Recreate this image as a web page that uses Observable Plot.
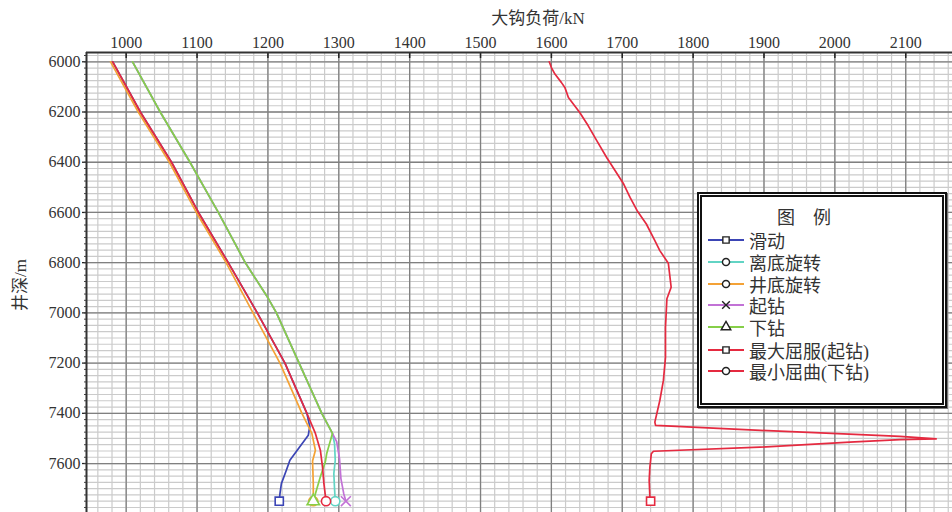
<!DOCTYPE html>
<html>
<head>
<meta charset="utf-8">
<script src="https://cdn.jsdelivr.net/npm/d3@7"></script>
<script src="https://cdn.jsdelivr.net/npm/@observablehq/plot@0.6"></script>
<style>
  html, body { margin: 0; padding: 0; background: #fff; }
  #wrap { position: relative; width: 952px; height: 512px; overflow: hidden;
          font-family: "Liberation Serif", "Noto Sans CJK SC", serif; color: #333; }
  #title { position: absolute; left: 538px; top: 4px; transform: translateX(-50%);
           font-size: 17px; white-space: nowrap; }
  #ylab { position: absolute; left: 18px; top: 285px; transform: translate(-50%, -50%) rotate(-90deg);
          font-size: 17px; white-space: nowrap; }
  #legend { position: absolute; left: 697px; top: 192px; width: 250px; height: 216px;
            box-sizing: border-box; border: 5px double #111; background: #fff;
            box-shadow: 1px 1px 0 #777; }
  #legend .lt { position: absolute; left: 75px; top: 6px; font-size: 18px; letter-spacing: 18px; }
  #legend .row { position: absolute; left: 6px; height: 22px; display: flex; align-items: center; font-size: 18px; white-space: nowrap; }
  #legend svg { margin-right: 5px; }
</style>
</head>
<body>
<div id="wrap">
  <div id="chart"></div>
  <div id="title">大钩负荷/kN</div>
  <div id="ylab">井深/m</div>
  <div id="legend"></div>
</div>
<script>
// ---- tick labels ----
const xTicks = [1000, 1100, 1200, 1300, 1400, 1500, 1600, 1700, 1800, 1900, 2000, 2100];
const yTicks = [6000, 6200, 6400, 6600, 6800, 7000, 7200, 7400, 7600];

// ---- series names / legend order ----
const legendNames = ["滑动", "离底旋转", "井底旋转", "起钻", "下钻", "最大屈服(起钻)", "最小屈曲(下钻)"];
const legendColors = ["#3b45b5", "#62d4c4", "#f4a236", "#c272d6", "#86cf48", "#e52a40", "#e52a40"];
const legendSymbols = ["square", "circle", "circle", "times", "triangle", "square", "circle"];

// ---- data (depth in m, hook load in kN) ----
const slideDepth = [6000, 6200, 6400, 6600, 6800, 7000, 7200, 7400, 7453, 7487, 7533, 7587, 7627, 7680, 7720, 7750];
const slideLoad  = [981, 1020, 1064, 1102, 1144, 1185, 1224, 1255, 1259, 1257, 1245, 1231, 1226, 1219, 1217, 1216];

const offBottomDepth = [6000, 6200, 6400, 6600, 6800, 6940, 7000, 7200, 7400, 7453, 7480, 7520, 7587, 7640, 7700, 7750];
const offBottomLoad  = [1009, 1048, 1090, 1130, 1168, 1200, 1212, 1244, 1276, 1286, 1291, 1294, 1295, 1293, 1294, 1295];

const onBottomDepth = [6000, 6200, 6400, 6600, 6800, 7000, 7200, 7400, 7480, 7547, 7590, 7680, 7750];
const onBottomLoad  = [978, 1017, 1061, 1099, 1141, 1179, 1217, 1248, 1262, 1267, 1263, 1264, 1264];

const tripOutDepth = [6000, 6200, 6400, 6600, 6800, 6940, 7000, 7200, 7400, 7453, 7480, 7513, 7580, 7660, 7720, 7750];
const tripOutLoad  = [1009, 1048, 1090, 1130, 1168, 1200, 1212, 1244, 1276, 1286, 1291, 1297, 1301, 1303, 1307, 1310];

const tripInDepth = [6000, 6200, 6400, 6600, 6800, 6940, 7000, 7200, 7400, 7453, 7480, 7560, 7593, 7653, 7720, 7750];
const tripInLoad  = [1009, 1048, 1090, 1130, 1168, 1200, 1212, 1244, 1276, 1286, 1291, 1283, 1281, 1274, 1267, 1264];

const maxYieldDepth = [6000, 6023, 6049, 6082, 6102, 6142, 6202, 6255, 6314, 6381, 6434, 6487, 6540, 6593, 6646, 6712, 6752, 6802, 6898, 6944, 7057, 7177, 7270, 7349, 7435, 7448, 7468, 7482, 7492, 7502, 7505, 7515, 7535, 7551, 7561, 7614, 7667, 7734, 7750];
const maxYieldLoad  = [1597, 1600, 1605, 1614, 1619, 1624, 1640, 1652, 1664, 1678, 1690, 1702, 1711, 1721, 1734, 1746, 1753, 1765, 1769, 1763, 1761, 1761, 1758, 1753, 1746, 1747, 1895, 2012, 2092, 2143, 2092, 2021, 1894, 1744, 1741, 1739, 1738, 1739, 1740];

const minBuckleDepth = [6000, 6200, 6400, 6600, 6800, 7000, 7200, 7400, 7480, 7547, 7613, 7680, 7750];
const minBuckleLoad  = [981, 1020, 1064, 1102, 1144, 1185, 1224, 1255, 1267, 1274, 1277, 1279, 1282];

// draw order (bottom to top)
const seriesList = [
  {name: "离底旋转", depth: offBottomDepth, load: offBottomLoad},
  {name: "起钻", depth: tripOutDepth, load: tripOutLoad},
  {name: "滑动", depth: slideDepth, load: slideLoad},
  {name: "井底旋转", depth: onBottomDepth, load: onBottomLoad},
  {name: "下钻", depth: tripInDepth, load: tripInLoad},
  {name: "最小屈曲(下钻)", depth: minBuckleDepth, load: minBuckleLoad},
  {name: "最大屈服(起钻)", depth: maxYieldDepth, load: maxYieldLoad}
];

const rows = seriesList.flatMap(s => s.depth.map((d, i) => ({name: s.name, depth: d, load: s.load[i]})));
const ends = seriesList.map(s => ({name: s.name, depth: s.depth[s.depth.length - 1], load: s.load[s.load.length - 1]}));

const xMinor = d3.range(960, 2161, 20);
const yMinor = d3.range(5975, 7800, 25);
const xMajor = d3.range(1000, 2101, 100);
const yMajor = d3.range(6000, 7801, 200);

const chart = Plot.plot({
  width: 952, height: 512,
  marginTop: 52, marginLeft: 86, marginRight: 0, marginBottom: 0,
  style: {fontFamily: '"Liberation Serif", "Noto Sans CJK SC", serif', fontSize: "16px", color: "#333", background: "#fff"},
  x: {domain: [944, 2166]},
  y: {domain: [5963, 7795], reverse: true},
  color: {domain: legendNames, range: legendColors},
  symbol: {domain: legendNames, range: legendSymbols},
  marks: [
    Plot.ruleX(xMinor, {stroke: "#cbcbcb", strokeWidth: 1.2}),
    Plot.ruleY(yMinor, {stroke: "#cbcbcb", strokeWidth: 1.2}),
    Plot.ruleX(xMajor, {stroke: "#808080", strokeWidth: 1.3}),
    Plot.ruleY(yMajor, {stroke: "#808080", strokeWidth: 1.3}),
    Plot.line(rows, {x: "load", y: "depth", z: "name", stroke: "name", strokeWidth: 1.7, curve: "linear"}),
    Plot.dot(ends, {x: "load", y: "depth", stroke: "name", symbol: "name", r: 4.6, fill: "white", strokeWidth: 1.6}),
    Plot.axisX({anchor: "top", ticks: xTicks, tickSize: 0, tickPadding: 5, label: null, tickFormat: d => String(d), fill: "#333"}),
    Plot.axisX({anchor: "top", ticks: xTicks, tickSize: -5, text: null, label: null, stroke: "#222", strokeWidth: 1.5}),
    Plot.axisY({anchor: "left", ticks: yTicks, tickSize: 4, tickPadding: 2, label: null, tickFormat: d => String(d), fill: "#333", stroke: "#222", strokeWidth: 1.3}),
    Plot.axisY({anchor: "left", ticks: yMinor, tickSize: 2, text: null, label: null, stroke: "#444"}),
    Plot.ruleX([944], {stroke: "#333", strokeWidth: 2}),
    Plot.ruleY([5963], {stroke: "#333", strokeWidth: 2})
  ]
});
document.getElementById("chart").appendChild(chart);

// ---- legend ----
const legend = document.getElementById("legend");
const lt = document.createElement("div");
lt.className = "lt"; lt.textContent = "图例";
legend.appendChild(lt);
const rowCenters = [240, 262, 284, 305, 327, 350, 371];
const symTypes = {square: d3.symbolSquare, circle: d3.symbolCircle, times: (d3.symbolX || d3.symbolTimes || d3.symbolCross), triangle: d3.symbolTriangle};
legendNames.forEach((name, i) => {
  const row = document.createElement("div");
  row.className = "row";
  row.style.top = (rowCenters[i] - 197 - 11) + "px";
  const svg = d3.create("svg").attr("width", 36).attr("height", 14);
  svg.append("line").attr("x1", 0).attr("x2", 36).attr("y1", 7).attr("y2", 7)
    .attr("stroke", legendColors[i]).attr("stroke-width", 2);
  const sym = d3.symbol().type(symTypes[legendSymbols[i]]).size(40);
  svg.append("path").attr("d", sym()).attr("transform", "translate(18,7)")
    .attr("fill", "white").attr("stroke", "#222").attr("stroke-width", 1.4);
  row.appendChild(svg.node());
  const t = document.createElement("span");
  t.textContent = name;
  row.appendChild(t);
  legend.appendChild(row);
});
</script>
</body>
</html>
